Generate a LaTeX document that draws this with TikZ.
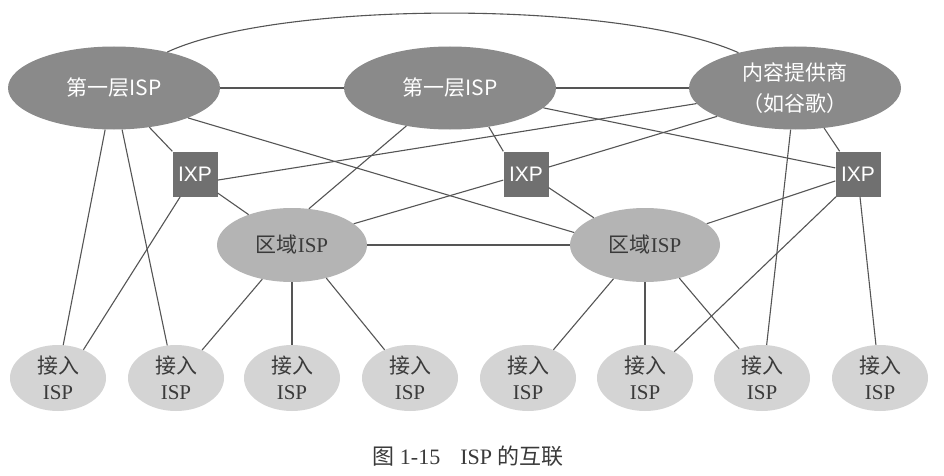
\documentclass[tikz,border=0pt]{standalone}
\usepackage{fontspec}
\setmainfont{Liberation Serif}
\newfontfamily\cjk{Noto Sans CJK SC}
\newfontfamily\arial{Liberation Sans}
\usetikzlibrary{shapes.geometric}
\definecolor{tiergray}{HTML}{8A8A8A}
\definecolor{ixpgray}{HTML}{707070}
\definecolor{reggray}{HTML}{B4B4B4}
\definecolor{accgray}{HTML}{D4D4D4}
\definecolor{linkgray}{HTML}{555555}
\definecolor{txtdark}{HTML}{3A3A3A}
\tikzset{
  tierisp/.style={ellipse, fill=tiergray, inner sep=0pt, minimum width=212pt, minimum height=83pt,
    text=white, font=\cjk\fontsize{21}{31}\selectfont, align=center},
  ixpbox/.style={rectangle, fill=ixpgray, inner sep=0pt, minimum size=45pt,
    text=white, font=\arial\fontsize{21}{24}\selectfont},
  regisp/.style={ellipse, fill=reggray, inner sep=0pt, minimum width=150pt, minimum height=74pt,
    text=txtdark, font=\fontsize{21}{24}\selectfont},
  accisp/.style={ellipse, fill=accgray, inner sep=0pt, minimum width=96pt, minimum height=66pt,
    text=txtdark, font=\fontsize{21}{26}\selectfont, align=center},
  link/.style={draw=linkgray, line width=1.1pt},
  captext/.style={text=txtdark, font=\fontsize{22}{26}\selectfont}
}
\begin{document}
\begin{tikzpicture}[x=1pt,y=-1pt]
\useasboundingbox[fill=white] (0,0) rectangle (944,476);
% tier-1 and content provider
\node[tierisp] (t1l) at (114,88) {第一层ISP};
\node[tierisp] (t1m) at (450,88) {第一层ISP};
\node[tierisp] (cp) at (795,88) {内容提供商\\（如谷歌）};
% IXPs
\node[ixpbox] (ixp1) at (195,174) {IXP};
\node[ixpbox] (ixp2) at (526,174) {IXP};
\node[ixpbox] (ixp3) at (858,174) {IXP};
% regional
\node[regisp] (r1) at (292,245) {{\cjk 区域}ISP};
\node[regisp] (r2) at (645,245) {{\cjk 区域}ISP};
% access
\node[accisp] (a1) at (58,378) {{\cjk 接入}\\ISP};
\node[accisp] (a2) at (176,378) {{\cjk 接入}\\ISP};
\node[accisp] (a3) at (292,378) {{\cjk 接入}\\ISP};
\node[accisp] (a4) at (410,378) {{\cjk 接入}\\ISP};
\node[accisp] (a5) at (528,378) {{\cjk 接入}\\ISP};
\node[accisp] (a6) at (645,378) {{\cjk 接入}\\ISP};
\node[accisp] (a7) at (762,378) {{\cjk 接入}\\ISP};
\node[accisp] (a8) at (880,378) {{\cjk 接入}\\ISP};
% caption
\node[captext] (cap) at (468,456) {{\cjk 图}\ 1-15\hspace{20pt}ISP\ {\cjk 的互联}};
% links
\draw[link] (t1l.east) -- (t1m.west);
\draw[link] (t1m.east) -- (cp.west);
\draw[link] (t1l.34) .. controls (280,0) and (620,0) .. (cp.148);
\draw[link] (t1l.312) -- (ixp1.north west);
\draw[link] (t1l.258) -- (a1.81);
\draw[link] (t1l.281) -- (a2.105);
\draw[link] (t1l.338) -- (r2.170);
\draw[link] (t1m.348) -- (ixp3.165);
\draw[link] (ixp1.345) -- (cp.189);
\draw[link] (r1.19) -- (ixp2.195);
\draw[link] (t1m.221) -- (r1.65);
\draw[link] (t1m.315) -- (ixp2.north west);
\draw[link] (ixp1.320) -- (r1.145);
\draw[link] (ixp1.237) -- (a1.48);
\draw[link] (ixp2.329) -- (r2.152);
\draw[link] (r1.east) -- (r2.west);
\draw[link] (cp.306) -- (ixp3.129);
\draw[link] (cp.264) -- (a7.82);
\draw[link] (ixp3.197) -- (r2.19);
\draw[link] (ixp3.226) -- (a6.42);
\draw[link] (ixp3.275) -- (a8.97);
\draw[link] (r1.229) -- (a2.47);
\draw[link] (r1.south) -- (a3.north);
\draw[link] (r1.316) -- (a4.132);
\draw[link] (r2.227) -- (a5.48);
\draw[link] (r2.south) -- (a6.north);
\draw[link] (r2.316) -- (a7.128);
\draw[link] (cp.200) -- (ixp2.17);
\end{tikzpicture}
\end{document}
